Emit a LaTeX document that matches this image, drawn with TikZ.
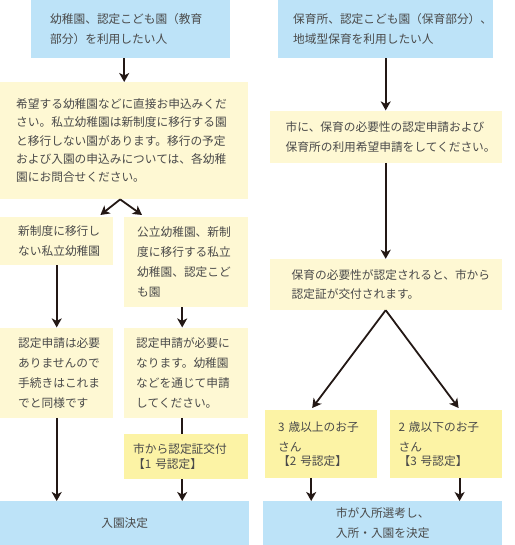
\documentclass[tikz,border=0pt]{standalone}
\usepackage{fontspec}
\newfontfamily\jpfont{Noto Sans CJK JP}
\usepackage{xcolor}
\definecolor{boxblue}{HTML}{BDE3F8}
\definecolor{boxcream}{HTML}{FEF8D3}
\definecolor{boxyellow}{HTML}{FCF3A5}
\definecolor{textgray}{HTML}{4A4A4A}
\definecolor{arrowcol}{HTML}{231815}
\usepackage{tikz}
\usetikzlibrary{positioning, arrows.meta}
\newcommand{\gou}[1]{\kern-0.45em【#1 号認定】}

\begin{document}
\begin{tikzpicture}
[x=1pt, y=-1pt,
 >={Stealth[length=9pt, width=10pt, inset=2.5pt]},
 every node/.style={font=\jpfont\fontsize{11.7pt}{20pt}\selectfont, text=textgray},
 box/.style={rectangle, align=left, inner ysep=0pt, anchor=north west},
 bluebox/.style={box, fill=boxblue},
 creambox/.style={box, fill=boxcream},
 yellowbox/.style={box, fill=boxyellow},
 arr/.style={->, draw=arrowcol, line width=1.8pt},
 plain/.style={draw=arrowcol, line width=1.8pt},
]

\useasboundingbox (0,0) rectangle (514,545);

\node[bluebox, text width=161pt, inner xsep=19pt, minimum height=58pt] (kyoiku) at (31,0)
  {幼稚園、認定こども園（教育\\部分）を利用したい人};
\node[bluebox, text width=185pt, inner xsep=15pt, minimum height=58pt] (hoiku) at (278,0)
  {保育所、認定こども園（保育部分）、\\地域型保育を利用したい人};

\node[creambox, text width=216pt, inner xsep=16pt, minimum height=117pt,
      font=\jpfont\fontsize{11.7pt}{18.3pt}\selectfont] (moushikomi) at (0,82)
  {希望する幼稚園などに直接お申込みくだ\\さい。私立幼稚園は新制度に移行する園\\と移行しない園があります。移行の予定\\および入園の申込みについては、各幼稚\\園にお問合せください。};
\node[creambox, text width=200pt, inner xsep=16pt, minimum height=52pt, below=52pt of hoiku] (shinsei)
  {市に、保育の必要性の認定申請および\\保育所の利用希望申請をしてください。};
\node[creambox, text width=188pt, inner xsep=22pt, minimum height=51pt, below=96pt of shinsei,
      font=\jpfont\fontsize{11.7pt}{19pt}\selectfont] (nintei)
  {保育の必要性が認定されると、市から\\認定証が交付されます。};

\node[creambox, text width=77pt, inner xsep=18pt, minimum height=48pt] (ikonashi) at (0,217)
  {新制度に移行し\\ない私立幼稚園};
\node[creambox, text width=98pt, inner xsep=13pt, minimum height=90pt] (koritsu) at (124,217)
  {公立幼稚園、新制\\度に移行する私立\\幼稚園、認定こど\\も園};
\node[creambox, text width=77pt, inner xsep=18pt, minimum height=90pt, below=62pt of ikonashi] (fuyo)
  {認定申請は必要\\ありませんので\\手続きはこれま\\でと同様です};
\node[creambox, text width=100pt, inner xsep=12pt, minimum height=90pt, below=20pt of koritsu] (hitsuyo)
  {認定申請が必要に\\なります。幼稚園\\などを通じて申請\\してください。};
\node[yellowbox, text width=106pt, inner xsep=9pt, minimum height=45pt, below=16pt of hitsuyo] (kofu)
  {市から認定証交付\\\gou{1}};

\node[yellowbox, text width=86pt, inner xsep=13pt, minimum height=68pt] (sansai) at (265,410)
  {3 歳以上のお子\\さん\\\gou{2}};
\node[yellowbox, text width=94pt, inner xsep=9pt, minimum height=68pt, right=12pt of sansai] (nisai)
  {2 歳以下のお子\\さん\\\gou{3}};

\node[bluebox, align=center, minimum width=249pt, minimum height=44pt] (nyuen) at (0,501)
  {入園決定};
\node[bluebox, align=center, minimum width=239pt, minimum height=44pt] (senko) at (263,501)
  {市が入所選考し、\\入所・入園を決定};

\coordinate (bunki) at ([xshift=-4pt]moushikomi.south);

\draw[arr] (kyoiku.south -| moushikomi.north) -- (moushikomi.north);
\draw[arr] (hoiku.south) -- (shinsei.north);
\draw[arr] (shinsei.south) -- (nintei.north);

\draw[arr] (bunki) -- ([xshift=-13pt,yshift=2pt]ikonashi.north east);
\draw[arr] (bunki) -- ([xshift=18pt,yshift=2pt]koritsu.north west);
\draw[arr] (ikonashi.south) -- (fuyo.north);
\draw[arr] ([xshift=-4pt]koritsu.south) -- ([xshift=-4pt]hitsuyo.north);
\draw[plain] ([xshift=-4pt]hitsuyo.south) -- ([xshift=-4pt]kofu.north);
\draw[arr] (fuyo.south) -- (fuyo.south |- nyuen.north);
\draw[arr] ([xshift=-4pt]kofu.south) -- ([xshift=-4pt]kofu.south |- nyuen.north);

\draw[arr] (nintei.south) -- ([xshift=-9pt,yshift=2pt]sansai.north);
\draw[arr] (nintei.south) -- ([xshift=13pt,yshift=2pt]nisai.north);
\draw[arr] ([xshift=-10pt]sansai.south) -- ([xshift=-10pt]sansai.south |- senko.north);
\draw[arr] ([xshift=14pt]nisai.south) -- ([xshift=14pt]nisai.south |- senko.north);
\end{tikzpicture}
\end{document}
